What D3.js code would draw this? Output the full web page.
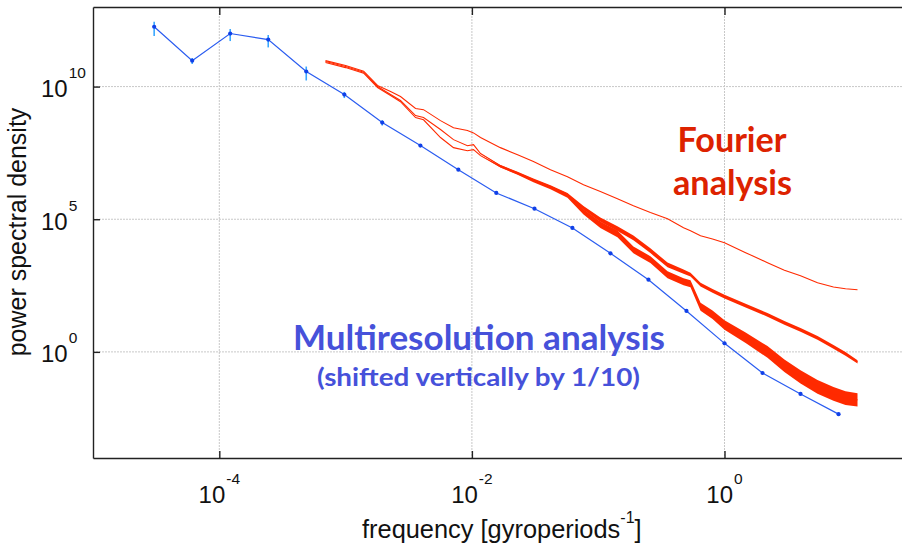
<!DOCTYPE html>
<html>
<head>
<meta charset="utf-8">
<script src="https://cdn.jsdelivr.net/npm/d3@7"></script>
<style>
  body { margin: 0; background: #fff; }
  svg { display: block; }
</style>
</head>
<body>
<script>
// multiresolution analysis (blue): frequency doubles each point
const mraFreq = [3.05e-5, 6.1e-5, 1.22e-4, 2.44e-4, 4.88e-4, 9.77e-4, 1.95e-3, 3.91e-3, 7.81e-3,
    1.56e-2, 3.13e-2, 6.25e-2, 0.125, 0.25, 0.5, 1, 2, 4, 8]
const mraPsd = [1.8e12, 9.5e10, 1.0e12, 5.9e11, 3.7e10, 5.0e9, 4.4e8, 6.0e7, 7.4e6,
    9.8e5, 2.5e5, 4.7e4, 5.2e3, 525, 35, 2.1, 0.16, 0.026, 0.0045]
const mraErr = [1.0e12, 2.4e10, 4.8e11, 2.9e11, 2.0e10, 1.3e9, 1.0e8, 6e6, 5e5,
    5e4, 1e4, 2e3, 200, 20, 1, 0.08, 0.006, 0.001, 0.0002]

// fourier spectra (red)
const ftFreq = [6.93e-4, 1.0e-3, 1.39e-3, 1.79e-3, 2.27e-3, 2.72e-3, 3.58e-3, 4.14e-3, 5.64e-3,
    7.15e-3, 9.22e-3, 1.03e-2, 1.17e-2, 1.68e-2, 2.30e-2, 3.07e-2, 4.19e-2, 5.71e-2, 7.65e-2,
    0.104, 0.142, 0.190, 0.259, 0.354, 0.474, 0.538, 0.646, 0.804, 1, 1.47, 2.19, 2.98, 4.0,
    5.45, 7.29, 9.08, 11.3]
const ftA = [9.5e10, 6.2e10, 3.8e10, 1.1e10, 6.5e9, 4.2e9, 1.5e9, 1.35e9, 5.2e8,
    2.8e8, 2.2e8, 1.8e8, 1.2e8, 5.0e7, 2.7e7, 1.5e7, 7.4e6, 4.0e6, 2.0e6,
    1.1e6, 5.9e5, 3.2e5, 1.8e5, 1.05e5, 4.8e4, 3.7e4, 2.4e4, 1.8e4, 1.3e4, 5.5e3, 2.3e3, 1.2e3, 740,
    400, 280, 240, 220]
const ftB = [8.8e10, 5.7e10, 3.5e10, 1.0e10, 5.0e9, 3.0e9, 8.1e8, 6.8e8, 2.4e8,
    1.0e8, 5.9e7, 6.5e7, 3.0e7, 1.05e7, 5.7e6, 3.1e6, 1.7e6, 8.4e5, 2.7e5,
    9.6e4, 4.4e4, 2.0e4, 6.5e3, 1.9e3, 1.05e3, 810, 340, 200, 120, 55, 25, 12.4, 6.8,
    3.4, 1.55, 0.84, 0.42]
const ftC = [8.1e10, 5.2e10, 3.2e10, 9.2e9, 4.6e9, 2.7e9, 6.8e8, 5.6e8, 1.2e8,
    5.0e7, 3.8e7, 4.2e7, 2.5e7, 9.6e6, 5.2e6, 2.8e6, 1.55e6, 7.8e5, 1.9e5,
    6.2e4, 2.8e4, 7.0e3, 3.0e3, 810, 440, 370, 50, 25, 10.4, 3.4, 1.0, 0.30, 0.114,
    0.048, 0.026, 0.018, 0.0155]
// half width of the noise band, in decades
const ftBNoise = [0, 0, 0, 0, 0, 0, 0, 0, 0, 0, 0, 0, 0, 0.02, 0.03, 0.04, 0.05, 0.06, 0.07,
    0.08, 0.09, 0.09, 0.09, 0.09, 0.08, 0.07, 0.07, 0.07, 0.07, 0.07, 0.07, 0.07, 0.07,
    0.07, 0.07, 0.07, 0.06]
const ftCNoise = [0, 0, 0, 0, 0, 0, 0, 0, 0, 0, 0, 0, 0, 0.03, 0.04, 0.05, 0.06, 0.08, 0.1,
    0.12, 0.13, 0.13, 0.13, 0.13, 0.13, 0.13, 0.15, 0.16, 0.18, 0.2, 0.22, 0.24, 0.25,
    0.26, 0.26, 0.26, 0.25]

const xTicks = [1e-4, 1e-2, 1e0]
const xTickExp = ['-4', '-2', '0']
const yTicks = [1e0, 1e5, 1e10]
const yTickExp = ['0', '5', '10']

const W = 902, H = 548
const plotLeft = 93, plotTop = 7, plotBottom = 458

const x = d3.scaleLog().domain([1e-5, 1e2]).range([plotLeft, plotLeft + 7 * 126.3])
const y = d3.scaleLog().domain([1e-4, 1e13]).range([plotBottom, plotTop])

const svg = d3.select('body').append('svg')
    .attr('width', W)
    .attr('height', H)

svg.append('rect').attr('width', W).attr('height', H).attr('fill', '#fff')

// grid
const grid = svg.append('g')
    .attr('stroke', '#c8c8c8')
    .attr('stroke-width', 1)
    .attr('stroke-dasharray', '2,1')

grid.selectAll('.gx').data(xTicks).join('line')
    .attr('x1', d => x(d)).attr('x2', d => x(d))
    .attr('y1', plotTop).attr('y2', plotBottom)

grid.selectAll('.gy').data(yTicks).join('line')
    .attr('x1', plotLeft).attr('x2', W)
    .attr('y1', d => y(d)).attr('y2', d => y(d))

// fourier spectra
const red = '#ff2a00'
const ft = (vals, noise) => ftFreq.map((f, i) => ({ f, p: vals[i], s: noise ? noise[i] : 0 }))

const line = d3.line().x(d => x(d.f)).y(d => y(d.p))
const band = d3.area()
    .x(d => x(d.f))
    .y0(d => y(d.p / Math.pow(10, d.s)))
    .y1(d => y(d.p * Math.pow(10, d.s)))

const spectra = [ft(ftA), ft(ftB, ftBNoise), ft(ftC, ftCNoise)]

spectra.forEach(s => {
    svg.append('path').datum(s)
        .attr('d', band)
        .attr('fill', red)
    svg.append('path').datum(s)
        .attr('d', line)
        .attr('fill', 'none')
        .attr('stroke', red)
        .attr('stroke-width', 1.1)
})

// multiresolution
const mra = mraFreq.map((f, i) => ({ f, p: mraPsd[i], e: mraErr[i] }))

svg.append('path').datum(mra)
    .attr('d', line)
    .attr('fill', 'none')
    .attr('stroke', '#2a5cf0')
    .attr('stroke-width', 1.2)

svg.selectAll('.err').data(mra).join('line')
    .attr('x1', d => x(d.f)).attr('x2', d => x(d.f))
    .attr('y1', d => y(d.p + d.e))
    .attr('y2', d => y(Math.max(d.p - d.e, d.p * 0.05)))
    .attr('stroke', '#3aa8ff')
    .attr('stroke-width', 1.6)

svg.selectAll('.pt').data(mra).join('circle')
    .attr('cx', d => x(d.f))
    .attr('cy', d => y(d.p))
    .attr('r', 2.1)
    .attr('fill', '#1040e8')

// axes
const frame = svg.append('g').attr('color', '#222')

frame.append('g')
    .attr('transform', `translate(0,${plotBottom})`)
    .call(d3.axisBottom(x).tickValues(xTicks).tickSizeInner(-7).tickSizeOuter(0).tickFormat(''))
frame.append('g')
    .attr('transform', `translate(0,${plotTop})`)
    .call(d3.axisTop(x).tickValues(xTicks).tickSizeInner(-8).tickSizeOuter(0).tickFormat(''))
frame.append('g')
    .attr('transform', `translate(${plotLeft},0)`)
    .call(d3.axisLeft(y).tickValues(yTicks).tickSizeInner(-7).tickSizeOuter(0).tickFormat(''))

frame.selectAll('.domain, .tick line').attr('stroke-width', 1.4)

const font = '"Liberation Sans", Arial, Helvetica, sans-serif'

// tick labels
const xl = svg.selectAll('.xl').data(xTicks).join('text')
    .attr('x', d => x(d))
    .attr('y', plotBottom + 45)
    .attr('text-anchor', 'middle')
    .attr('font-family', font)
    .attr('fill', '#111')
xl.append('tspan').attr('font-size', 24).text('10')
xl.append('tspan').attr('font-size', 15.5).attr('dx', 1).attr('dy', -19).text((d, i) => xTickExp[i])

const yl = svg.selectAll('.yl').data(yTicks).join('text')
    .attr('x', 41)
    .attr('y', d => y(d) + 10.5)
    .attr('font-family', font)
    .attr('fill', '#111')
yl.append('tspan').attr('font-size', 24).text('10')
yl.append('tspan').attr('font-size', 15.5).attr('dx', 1).attr('dy', -19).text((d, i) => yTickExp[i])

// axis titles
svg.append('text')
    .attr('transform', 'translate(26,232) rotate(-90)')
    .attr('text-anchor', 'middle')
    .attr('font-family', font)
    .attr('font-size', 25)
    .attr('fill', '#111')
    .text('power spectral density')

const xt = svg.append('text')
    .attr('x', 362)
    .attr('y', 538)
    .attr('font-family', font)
    .attr('font-size', 25.4)
    .attr('fill', '#111')
xt.append('tspan').text('frequency [gyroperiods')
xt.append('tspan').attr('font-size', 16).attr('dy', -15).text('-1')
xt.append('tspan').attr('dy', 15).text(']')

// annotations
const note = '"Lato", "Open Sans", sans-serif'
const notes = [
    { t: 'Fourier', x: 732, y: 152, size: 35, len: 109, c: '#dd2200' },
    { t: 'analysis', x: 732.5, y: 195, size: 35, len: 119, c: '#dd2200' },
    { t: 'Multiresolution analysis', x: 479, y: 350, size: 35, len: 372, c: '#4651da' },
    { t: '(shifted vertically by 1/10)', x: 478.5, y: 386, size: 24, len: 323, c: '#4651da' },
]
svg.selectAll('.note').data(notes).join('text')
    .attr('x', d => d.x)
    .attr('y', d => d.y)
    .attr('text-anchor', 'middle')
    .attr('font-family', note)
    .attr('font-weight', 700)
    .attr('font-size', d => d.size)
    .attr('textLength', d => d.len)
    .attr('lengthAdjust', 'spacingAndGlyphs')
    .attr('fill', d => d.c)
    .text(d => d.t)
</script>
</body>
</html>
